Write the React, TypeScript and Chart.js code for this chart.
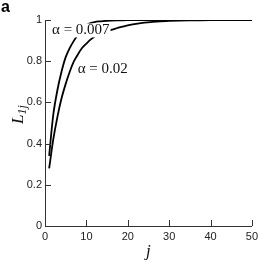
import React, { useEffect, useRef } from "react";
import { Chart, registerables } from "chart.js";

Chart.register(...registerables);

const jSteep = [1, 2, 3, 4, 5, 6, 7, 8, 9, 10, 11, 12, 13, 14, 16, 18, 20, 25, 30, 40, 50];
const lSteep = [0.34, 0.54, 0.66, 0.75, 0.82, 0.865, 0.9, 0.93, 0.955, 0.975, 0.985, 0.99, 0.993, 0.995, 0.997, 0.998, 0.999, 1.0, 1.0, 1.0, 1.0];

const jSlow = [1, 2, 3, 4, 5, 6, 7, 8, 9, 10, 11, 12, 13, 14, 15, 16, 17, 18, 19, 20, 22, 24, 26, 28, 30, 35, 40, 45, 50];
const lSlow = [0.28, 0.42, 0.53, 0.62, 0.69, 0.75, 0.8, 0.835, 0.865, 0.885, 0.905, 0.92, 0.93, 0.937, 0.945, 0.952, 0.958, 0.964, 0.969, 0.974, 0.981, 0.987, 0.991, 0.994, 0.996, 0.998, 0.999, 1.0, 1.0];

const labelSteep = "\u03b1 = 0.007";
const labelSlow = "\u03b1 = 0.02";
const panelLabel = "a";
const xTitle = "j";
const yTitleMain = "L";
const yTitleSub = "1j";

const xTicks = [0, 10, 20, 30, 40, 50];
const yTicks = [0, 0.2, 0.4, 0.6, 0.8, 1];

const AXIS = "#333";
const TICK_FONT = { family: "'Liberation Sans', Arial, sans-serif", size: 11 };

const decor = {
  id: "decor",
  afterDraw(chart: any) {
    const ctx = chart.ctx;
    const xs = chart.scales.x;
    const ys = chart.scales.y;
    const { left, bottom } = chart.chartArea;
    ctx.save();
    ctx.strokeStyle = AXIS;
    ctx.lineWidth = 1;
    xTicks.forEach((v) => {
      const px = Math.round(xs.getPixelForValue(v)) + 0.5;
      ctx.beginPath();
      ctx.moveTo(px, bottom);
      ctx.lineTo(px, bottom - 6);
      ctx.stroke();
    });
    yTicks.forEach((v) => {
      const py = Math.round(ys.getPixelForValue(v)) + 0.5;
      ctx.beginPath();
      ctx.moveTo(left, py);
      ctx.lineTo(left + 6, py);
      ctx.stroke();
    });

    ctx.font = "15px 'Liberation Serif', 'DejaVu Serif', serif";
    ctx.textBaseline = "alphabetic";
    ctx.textAlign = "left";
    const drawLabel = (text: string, x: number, y: number) => {
      const w = ctx.measureText(text).width;
      ctx.fillStyle = "#fff";
      ctx.fillRect(x - 1, y - 11, w + 2, 14);
      ctx.fillStyle = "#111";
      ctx.fillText(text, x, y);
    };
    drawLabel(labelSteep, xs.getPixelForValue(1.7), ys.getPixelForValue(0.93));
    drawLabel(labelSlow, xs.getPixelForValue(7.9), ys.getPixelForValue(0.745));

    ctx.fillStyle = "#000";
    ctx.font = "bold 16px 'Liberation Sans', Arial, sans-serif";
    ctx.textBaseline = "alphabetic";
    ctx.fillText(panelLabel, 1, 12);

    ctx.font = "italic 17px 'Liberation Serif', 'DejaVu Serif', serif";
    ctx.textAlign = "center";
    ctx.fillStyle = "#111";
    ctx.fillText(xTitle, (chart.chartArea.left + chart.chartArea.right) / 2, 256);

    ctx.save();
    ctx.translate(23, 124);
    ctx.rotate(-Math.PI / 2);
    ctx.textAlign = "left";
    ctx.font = "italic 17px 'Liberation Serif', 'DejaVu Serif', serif";
    ctx.fillText(yTitleMain, 0, 0);
    const lw = ctx.measureText(yTitleMain).width;
    ctx.font = "italic 12px 'Liberation Serif', 'DejaVu Serif', serif";
    ctx.fillText(yTitleSub, lw, 3);
    ctx.restore();

    ctx.restore();
  },
};

export default function App() {
  const ref = useRef<HTMLCanvasElement | null>(null);
  useEffect(() => {
    if (!ref.current) return;
    const chart = new Chart(ref.current, {
      type: "line",
      data: {
        datasets: [
          {
            data: jSteep.map((j, i) => ({ x: j, y: lSteep[i] })),
            borderColor: "#000",
            borderWidth: 1.8,
            pointRadius: 0,
            tension: 0.3,
            fill: false,
          },
          {
            data: jSlow.map((j, i) => ({ x: j, y: lSlow[i] })),
            borderColor: "#000",
            borderWidth: 1.8,
            pointRadius: 0,
            tension: 0.3,
            fill: false,
          },
        ],
      },
      options: {
        animation: false,
        responsive: false,
        maintainAspectRatio: false,
        layout: { padding: { top: 20, right: 7, left: 0, bottom: 0 } },
        plugins: { legend: { display: false }, tooltip: { enabled: false } },
        scales: {
          x: {
            type: "linear",
            min: 0,
            max: 50,
            afterFit: (s: any) => {
              s.height = 36;
            },
            afterBuildTicks: (s: any) => {
              s.ticks = xTicks.map((v) => ({ value: v }));
            },
            grid: { display: true, drawOnChartArea: false, drawTicks: false },
            border: { display: true, color: AXIS, width: 1 },
            ticks: {
              padding: 4,
              color: "#222",
              font: TICK_FONT,
              maxRotation: 0,
              callback: (v: any) => String(Number(v)),
            },
          },
          y: {
            type: "linear",
            min: 0,
            max: 1,
            afterFit: (s: any) => {
              s.width = 45;
            },
            afterBuildTicks: (s: any) => {
              s.ticks = yTicks.map((v) => ({ value: v }));
            },
            grid: { display: true, drawOnChartArea: false, drawTicks: false },
            border: { display: true, color: AXIS, width: 1 },
            ticks: {
              padding: 3,
              color: "#222",
              font: TICK_FONT,
              callback: (v: any) => String(Number(v)),
            },
          },
        },
      } as any,
      plugins: [decor],
    });
    return () => chart.destroy();
  }, []);
  return (
    <div style={{ position: "fixed", left: 0, top: 0, width: 262, height: 262, background: "#fff" }}>
      <canvas ref={ref} width={262} height={262} style={{ width: 262, height: 262 }} />
    </div>
  );
}
